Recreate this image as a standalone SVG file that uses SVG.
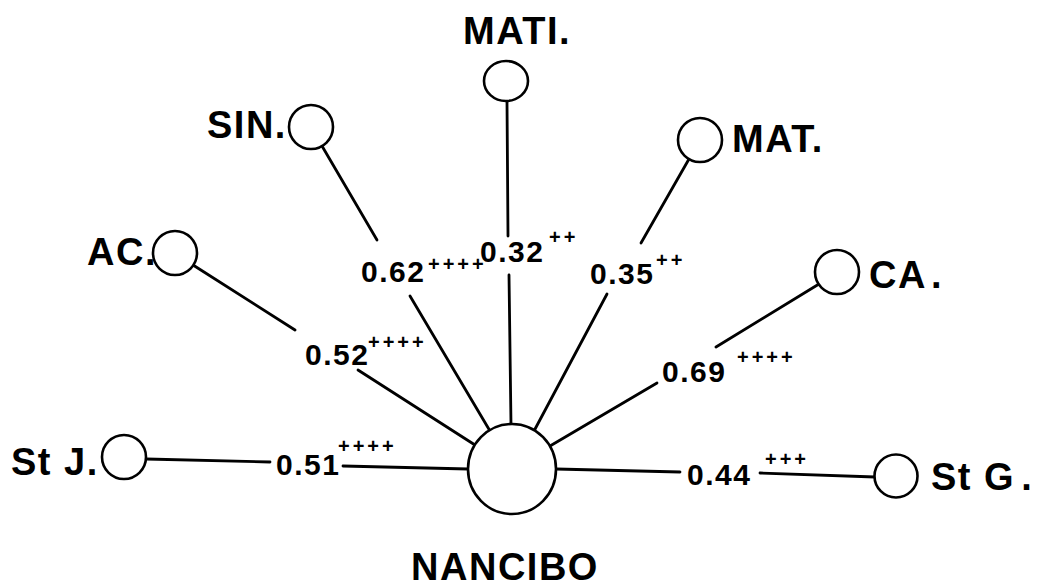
<svg xmlns="http://www.w3.org/2000/svg" width="1040" height="588" viewBox="0 0 1040 588">
<style>
.n{fill:#fff;stroke:#000;stroke-width:2.6}
.l{font-family:"Liberation Sans",Arial,sans-serif;font-weight:bold;font-size:38px;letter-spacing:1.5px;fill:#000}
.v{font-family:"Liberation Sans",Arial,sans-serif;font-weight:bold;font-size:30px;letter-spacing:1.5px;fill:#000}
.p{font-family:"Liberation Sans",Arial,sans-serif;font-weight:bold;font-size:20px;letter-spacing:3px;fill:#000}
.c line{stroke:#000;stroke-width:2.8;stroke-linecap:round}
</style>
<rect width="1040" height="588" fill="#fff"/>
<g id="connectors" class="c">
<line x1="507" y1="102" x2="508" y2="236"/><line x1="509" y1="275" x2="511" y2="425"/>
<line x1="322" y1="146" x2="377" y2="240"/><line x1="410" y1="296" x2="490" y2="431"/>
<line x1="689" y1="159" x2="641" y2="243"/><line x1="607" y1="294" x2="534" y2="431"/>
<line x1="193" y1="265" x2="295" y2="330"/><line x1="358" y1="370" x2="475" y2="445"/>
<line x1="819" y1="284" x2="716" y2="347"/><line x1="657" y1="383" x2="550" y2="446"/>
<line x1="146" y1="459" x2="270" y2="462"/><line x1="343" y1="466" x2="468" y2="469"/>
<line x1="556" y1="469" x2="680" y2="472"/><line x1="760" y1="473" x2="875" y2="477"/>
<text class="v" x="480" y="262">0.32</text><text class="p" x="549" y="244">++</text>
<text class="v" x="361" y="282">0.62</text><text class="p" x="428" y="271" letter-spacing="2">++++</text>
<text class="v" x="590" y="284">0.35</text><text class="p" x="656" y="267">++</text>
<text class="v" x="305" y="365">0.52</text><text class="p" x="368" y="349">++++</text>
<text class="v" x="662" y="382">0.69</text><text class="p" x="737" y="364">++++</text>
<text class="v" x="276" y="475">0.51</text><text class="p" x="338" y="453">++++</text>
<text class="v" x="687" y="485">0.44</text><text class="p" x="765" y="466">+++</text>
</g>
<g id="nancibo"><ellipse class="n" cx="512" cy="469" rx="44" ry="45"/><text class="l" x="505" y="580" text-anchor="middle" font-size="41" letter-spacing="0.5">NANCIBO</text></g>
<g id="mati"><ellipse class="n" cx="506" cy="81" rx="22" ry="20"/><text class="l" x="463" y="44">MATI.</text></g>
<g id="sin"><circle class="n" cx="311" cy="127" r="22"/><text class="l" x="207" y="138">SIN.</text></g>
<g id="mat"><circle class="n" cx="700" cy="140" r="22"/><text class="l" x="732" y="152">MAT.</text></g>
<g id="ac"><circle class="n" cx="175" cy="253" r="22"/><text class="l" x="87" y="265">AC.</text></g>
<g id="ca"><circle class="n" cx="837" cy="272" r="22"/><text class="l" x="869" y="288">CA<tspan dx="4">.</tspan></text></g>
<g id="stj"><circle class="n" cx="124" cy="457" r="22"/><text class="l" x="11" y="475">St J.</text></g>
<g id="stg"><circle class="n" cx="896" cy="476" r="21.5"/><text class="l" x="931" y="490">St G<tspan dx="6">.</tspan></text></g>
</svg>
